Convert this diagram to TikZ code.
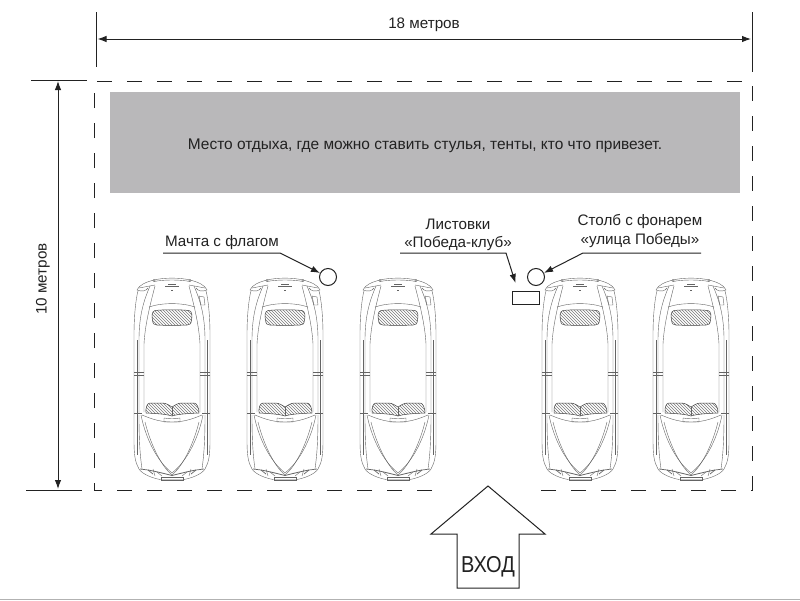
\documentclass[tikz,border=0pt]{standalone}
\usepackage{fontspec}
\setmainfont{Liberation Sans}
\usetikzlibrary{arrows.meta,patterns}
\definecolor{restgray}{HTML}{B9B8BA}
\definecolor{ink}{HTML}{222222}
\tikzset{
  lbl/.style={inner sep=0pt,text=ink,align=center,font=\fontsize{15.2}{18.5}\selectfont},
  dimline/.style={draw=ink,line width=1pt},
  dimarrow/.style={draw=ink,line width=1pt,{Latex[length=9pt,width=6.5pt]}-{Latex[length=9pt,width=6.5pt]}},
  leader/.style={draw=ink,line width=1pt,-{Latex[length=9pt,width=6.5pt]}},
  frame/.style={draw=ink,line width=.85pt,dash pattern=on 15pt off 15pt},
  marker/.style={draw=ink,line width=1pt,fill=white,circle,minimum size=17pt,inner sep=0pt},
  sheet/.style={draw=ink,line width=1pt,fill=white,minimum width=27pt,minimum height=13pt,inner sep=0pt},
  body/.style={draw=ink!70,line width=.4pt},
  hatched/.style={draw=ink!85,line width=.5pt,pattern=north west lines,pattern color=ink!60},
  pics/car/.style={code={
    % rear spoiler
    \draw[body] (-18,280) .. controls (-8,277.5) and (8,277.5) .. (18,280);
    \draw[body] (-18,281.5) .. controls (-8,279.5) and (8,279.5) .. (18,281.5);
    \draw[body] (-18,280.5) circle (1.2pt) (18,280.5) circle (1.2pt);
    \draw[body,line width=.9pt] (-7,286) -- (7,286);
    \draw[body] (-4,284) -- (4,284) (-1,290) -- (1,290);
    % wings at rear
    \draw[body] (-18,280) .. controls (-26,282) and (-33,285) .. (-35,290);
    \draw[body] (18,280) .. controls (26,282) and (33,285) .. (35,290);
    \draw[body] (-17,285) -- (-33,288) (17,285) -- (33,288);
    \draw[body] (-35,290) .. controls (-30,292) and (-26,291) .. (-24,288);
    \draw[body] (35,290) .. controls (30,292) and (26,291) .. (24,288);
    \draw[body] (27,296) -- (32,297) -- (33,305) -- (29,305) -- cycle;
    % outer body
    \draw[body] (-34,291) .. controls (-36,298) and (-38,315) .. (-38,335) -- (-38,440)
      .. controls (-38,455) and (-37,462) .. (-33,469)
      .. controls (-30,474) and (-20,478) .. (-12,479.5) -- (12,479.5)
      .. controls (20,478) and (30,474) .. (33,469)
      .. controls (37,462) and (38,455) .. (38,440) -- (38,335)
      .. controls (38,315) and (36,298) .. (34,291);
    % inner side lines
    \foreach \s in {-1,1}{
      \draw[body] (\s*22,286) .. controls (\s*28,300) and (\s*33,315) .. (\s*33,340) -- (\s*33,413);
      \draw[body] (\s*17,286) .. controls (\s*22,305) and (\s*27,325) .. (\s*28,344) -- (\s*28,412);
      \draw[body] (\s*35,340) -- (\s*35,455);
      \draw[body,line width=.7pt] (\s*38,372.5) -- (\s*28,372.5);
      \draw[body] (\s*38,375) -- (\s*28,375);
      \draw[body,line width=.7pt] (\s*38,413.5) -- (\s*30,413.5);
      \draw[body] (\s*33,415) .. controls (\s*33,440) and (\s*32,455) .. (\s*30,469);
      % headlights
      \draw[body,line width=.7pt] (\s*32,469) -- (\s*24,470) -- (\s*19,474);
      \draw[body] (\s*19,469) -- (\s*17,476) (\s*15,472) -- (\s*10,476);
      \draw[body,line width=.8pt] (\s*24,470) .. controls (\s*18,471) and (\s*10,473) .. (0,475.5);
    }
    % rear window
    \draw[body] (-23,307) .. controls (-10,302.5) and (10,302.5) .. (23,307);
    \draw[hatched] (-17,310.5) .. controls (-8,309.5) and (8,309.5) .. (17,310.5)
      .. controls (20,311) and (20.5,316) .. (19.5,320)
      .. controls (19,324) and (18,325) .. (15,325)
      .. controls (6,325.5) and (-6,325.5) .. (-15,325)
      .. controls (-18,325) and (-19,324) .. (-19.5,320)
      .. controls (-20.5,316) and (-20,311) .. (-17,310.5) -- cycle;
    % windscreen
    \draw[hatched] (-26,413) .. controls (-26.5,408) and (-25,403) .. (-22,403)
      -- (-10,403) .. controls (-6,403) and (-3,405) .. (0,407)
      .. controls (3,405) and (6,403) .. (10,403) -- (22,403)
      .. controls (25,403) and (27,408) .. (27,413)
      .. controls (16,413.5) and (6,414) .. (0,416)
      .. controls (-6,414) and (-16,413.5) .. (-26,413) -- cycle;
    \draw[body] (0,407) -- (0,416);
    % cowl and bonnet
    \draw[body] (-30,415) .. controls (-18,420) and (-10,422) .. (0,422) .. controls (10,422) and (18,420) .. (30,415);
    \draw[body] (-8,418) -- (-8,422) -- (8,422) -- (8,418) (-8,418) .. controls (-3,419) and (3,419) .. (8,418);
    \draw[body] (-31,415) .. controls (-26,440) and (-14,462) .. (0,473) .. controls (14,462) and (26,440) .. (31,415);
    \draw[body] (-27,422) .. controls (-22,442) and (-12,465) .. (0,475) .. controls (12,465) and (22,442) .. (27,422);
    % front bumper
    \draw[body] (-11,477) -- (11,477) (-11,477) -- (-11,480.5) -- (11,480.5) -- (11,477);
  }}
}
\begin{document}
\begin{tikzpicture}[x=1pt,y=-1pt]
\useasboundingbox (0,0) rectangle (800,600);
\fill[white] (0,0) rectangle (800,600);
% rest area
\node[fill=restgray,minimum width=630pt,minimum height=101pt,inner sep=0pt] (rest) at (425,142.5) {};
\node[lbl,font=\fontsize{15.45}{18.5}\selectfont] (resttext) at (425,146) {Место отдыха, где можно ставить стулья, тенты, кто что привезет.};
% frame
\draw[frame] (432,490) -- (94,490) -- (94,81) -- (752,81) -- (752,490) -- (539,490);
% dimensions
\draw[dimline] (96.5,12) -- (96.5,67);
\draw[dimline] (752,12) -- (752,72);
\draw[dimline] (31,80) -- (86.5,80);
\draw[dimline] (26,490) -- (82,490);
\coordinate (wl) at (97.5,39);
\coordinate (wr) at (751,39);
\coordinate (ht) at (58,81);
\coordinate (hb) at (58,489);
\draw[dimarrow] (wl) -- (wr);
\draw[dimarrow] (ht) -- (hb);
\node[lbl] (wtext) at (424,25) {18 метров};
\node[lbl,rotate=90] (htext) at (43,279) {10 метров};
% cars
\foreach \cx in {172,285,398,580,691}{
  \pic at (\cx,0) {car};
}
% markers
\node[marker] (mast) at (328,277) {};
\node[marker] (post) at (536,277) {};
\node[sheet] (flyers) at (525.5,297.5) {};
% labels
\node[lbl] (masttext) at (222,243) {Мачта с флагом};
\node[lbl] (flyerstext) at (458,235) {Листовки\\«Победа-клуб»};
\node[lbl] (posttext) at (640,231) {Столб с фонарем\\«улица Победы»};
% leaders
\coordinate (m0) at (163,253);
\coordinate (m1) at (280,253);
\draw[leader] (m0) -- (m1) -- (mast);
\coordinate (f0) at (400,253);
\coordinate (f1) at (506,253);
\coordinate (f2) at (515.5,283);
\draw[leader] (f0) -- (f1) -- (f2);
\coordinate (p0) at (701,253);
\coordinate (p1) at (583,253);
\draw[leader] (p0) -- (p1) -- (post);
% entrance
\node[lbl,font=\fontsize{23}{24}\selectfont,xscale=.87] (entry) at (488,567) {ВХОД};
\draw[ink,line width=1pt] (488,486) -- (545,534) -- (519,534) -- (519,588) -- (457,588) -- (457,534) -- (431,534) -- cycle;
% bottom rule
\draw[black!30,line width=1pt] (0,599) -- (800,599);
\end{tikzpicture}
\end{document}
